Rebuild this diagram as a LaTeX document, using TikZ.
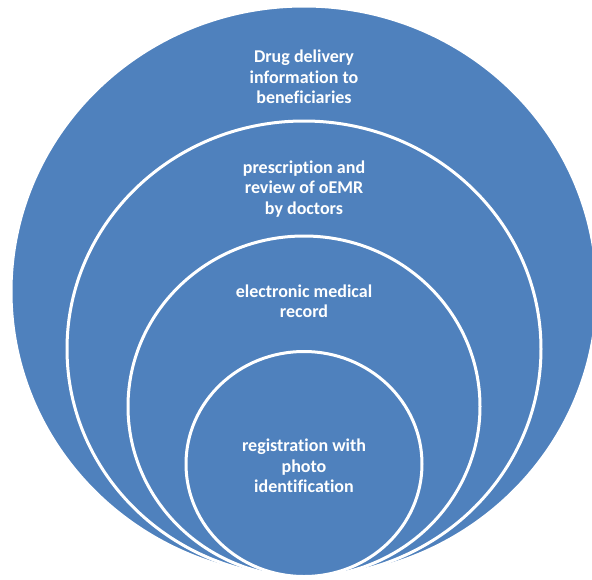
\documentclass[tikz,border=0pt]{standalone}
\usepackage{fontspec}
\setmainfont{Carlito}[Ligatures={NoCommon}]
\usetikzlibrary{shapes.geometric}
\definecolor{ringblue}{HTML}{4F81BD}
\tikzset{
  ring/.style={ellipse, fill=ringblue, draw=white, line width=3pt, inner sep=0pt},
  label/.style={text=white, align=center, font=\bfseries\fontsize{18}{20.5}\selectfont, inner sep=0pt}
}
\begin{document}
\begin{tikzpicture}[x=1pt,y=-1pt]
\useasboundingbox (0,0) rectangle (592,579);
\clip (0,0) rectangle (592,579);
\node[ring, minimum width=586pt, minimum height=571pt] (c1) at (304,291.5) {};
\node[ring, minimum width=474pt, minimum height=456pt] (c2) at (304,349) {};
\node[ring, minimum width=352pt, minimum height=341pt] (c3) at (304,406.5) {};
\node[ring, minimum width=236pt, minimum height=225pt] (c4) at (304,464) {};
\node[label] (t1) at (304,77) {Drug delivery\\information to\\beneficiaries};
\node[label] (t2) at (304,189) {prescription and\\review of oEMR\\by doctors};
\node[label] (t3) at (304,301) {electronic medical\\record};
\node[label] (t4) at (304,466) {registration with\\photo\\identification};
\end{tikzpicture}
\end{document}
